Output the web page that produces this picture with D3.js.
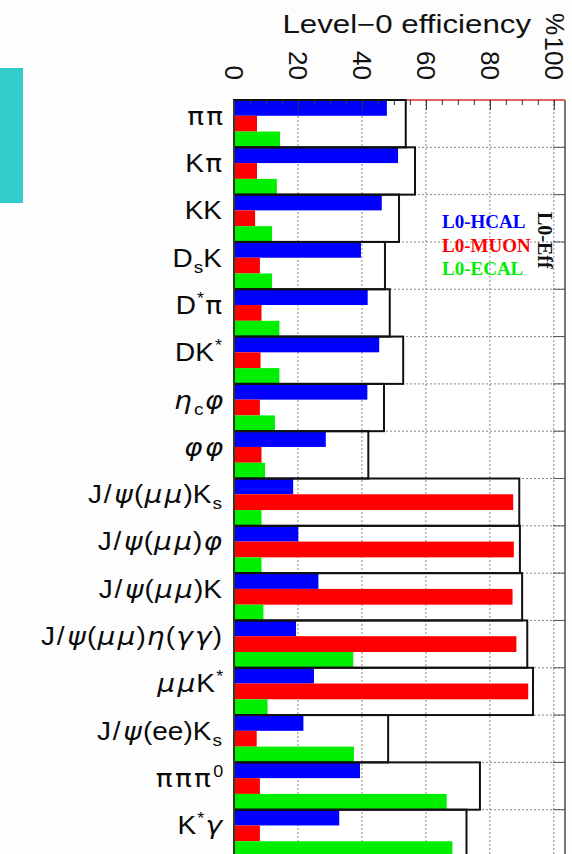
<!DOCTYPE html>
<html>
<head>
<meta charset="utf-8">
<script src="https://d3js.org/d3.v7.min.js"></script>
<style>
  body { margin: 0; background: #fdfdfd; }
  svg { display: block; }
</style>
</head>
<body>
<svg width="572" height="854"></svg>
<script>
  // decay channels, "_" = subscript, "^" = superscript (next char)
  var labels = ["ππ", "Kπ", "KK", "D_sK", "D^*π", "DK^*", "η_cφ", "φφ",
    "J/ψ(μμ)K_s", "J/ψ(μμ)φ", "J/ψ(μμ)K", "J/ψ(μμ)η(γγ)", "μμK^*",
    "J/ψ(ee)K_s", "πππ^0", "K^*γ"];

  // Level-0 efficiency in %
  var hcal = [47.8, 51.3, 46.2, 39.7, 41.8, 45.4, 41.7, 28.7, 18.5, 20.1, 26.4, 19.4, 25.0, 21.7, 39.4, 32.9];
  var muon = [7.2, 7.2, 6.6, 8.1, 8.6, 8.3, 8.1, 8.6, 87.3, 87.5, 87.1, 88.3, 92.0, 7.1, 8.1, 8.1];
  var ecal = [14.4, 13.4, 11.9, 11.9, 14.2, 14.2, 12.8, 9.7, 8.6, 8.6, 9.2, 37.3, 10.5, 37.5, 66.5, 68.3];
  var total = [53.7, 56.6, 51.6, 47.2, 48.7, 52.9, 46.9, 42.0, 89.2, 89.4, 90.1, 91.7, 93.5, 48.2, 76.9, 72.7];

  var seriesNames = ["L0-HCAL", "L0-MUON", "L0-ECAL"];
  var xTicks = [0, 20, 40, 60, 80, 100];

  var series = [hcal, muon, ecal];
  var colors = ["#0000ff", "#ff0000", "#00ee00"];

  var frame = { left: 234, right: 565, top: 100, bottom: 857 };

  var x = d3.scaleLinear().domain([0, 103.5]).range([frame.left, frame.right]);
  var y = d3.scaleBand().domain(labels).range([frame.top, frame.bottom]);
  var bw = y.bandwidth();

  var svg = d3.select("svg");

  // the teal block on the left of the slide
  svg.append("rect")
    .attr("x", 0).attr("y", 68).attr("width", 23).attr("height", 135)
    .attr("fill", "#33cccc");

  // plot area
  svg.append("rect")
    .attr("x", frame.left).attr("y", frame.top)
    .attr("width", frame.right - frame.left).attr("height", frame.bottom - frame.top)
    .attr("fill", "#fff");

  // dotted grid
  var grid = svg.append("g")
    .attr("stroke", "#8a8a8a").attr("stroke-width", 1).attr("stroke-dasharray", "2,2");
  grid.selectAll("line.v")
    .data(xTicks.slice(1))
    .join("line")
    .attr("class", "v")
    .attr("x1", d => x(d)).attr("x2", d => x(d))
    .attr("y1", frame.top).attr("y2", frame.bottom);
  grid.selectAll("line.h")
    .data(labels.slice(1))
    .join("line")
    .attr("class", "h")
    .attr("x1", frame.left).attr("x2", frame.right)
    .attr("y1", d => y(d)).attr("y2", d => y(d));

  // top frame line (red in the original)
  svg.append("line")
    .attr("x1", frame.left).attr("x2", frame.right)
    .attr("y1", frame.top).attr("y2", frame.top)
    .attr("stroke", "#e03030").attr("stroke-width", 1.5);

  // the three triggers
  series.forEach(function (vals, k) {
    svg.append("g").attr("fill", colors[k])
      .selectAll("rect")
      .data(vals)
      .join("rect")
      .attr("x", x(0))
      .attr("y", (d, i) => y(labels[i]) + k * bw / 3)
      .attr("width", d => x(d) - x(0))
      .attr("height", bw / 3);
  });

  // total L0 efficiency outline
  svg.append("g")
    .attr("fill", "none").attr("stroke", "#111").attr("stroke-width", 2)
    .selectAll("rect")
    .data(total)
    .join("rect")
    .attr("x", x(0))
    .attr("y", (d, i) => y(labels[i]))
    .attr("width", d => x(d) - x(0))
    .attr("height", bw);

  // frame sides
  svg.append("line")
    .attr("x1", frame.left).attr("x2", frame.left)
    .attr("y1", frame.top).attr("y2", frame.bottom)
    .attr("stroke", "#556b2f").attr("stroke-width", 1);
  svg.append("line")
    .attr("x1", frame.right).attr("x2", frame.right)
    .attr("y1", frame.top).attr("y2", frame.bottom)
    .attr("stroke", "#777").attr("stroke-width", 2);

  // right side category ticks
  svg.append("g")
    .attr("stroke", "#555").attr("stroke-width", 1)
    .selectAll("line")
    .data(labels.slice(1))
    .join("line")
    .attr("x1", frame.right - 12).attr("x2", frame.right)
    .attr("y1", d => y(d)).attr("y2", d => y(d));

  // top axis: minor ticks
  svg.append("g")
    .attr("transform", `translate(0,${frame.top})`)
    .call(d3.axisTop(x).tickValues(d3.range(0, 101, 5)).tickSize(-5).tickFormat(""))
    .call(g => g.select(".domain").remove())
    .call(g => g.selectAll("line").attr("stroke", "#333"));

  // top axis: major ticks + rotated labels
  var xAxis = svg.append("g")
    .attr("transform", `translate(0,${frame.top})`)
    .call(d3.axisTop(x).tickValues(xTicks).tickSize(-10).tickFormat(d3.format("d")));
  xAxis.select(".domain").remove();
  xAxis.selectAll("line").attr("stroke", "#333");
  xAxis.selectAll("text")
    .attr("x", 0).attr("y", 0).attr("dy", "0.36em")
    .attr("text-anchor", "end")
    .attr("transform", "translate(0,-20) rotate(90)")
    .attr("fill", "#111")
    .style("font", "26px 'Liberation Sans', Arial, sans-serif");

  // axis title
  svg.append("g")
    .attr("transform", "translate(531,33) scale(1.25,1)")
    .append("text")
    .attr("text-anchor", "end")
    .attr("fill", "#111")
    .style("font", "25px 'Liberation Sans', Arial, sans-serif")
    .text("Level\u22120 efficiency");
  svg.append("text")
    .attr("transform", "translate(555,24) rotate(90)")
    .attr("text-anchor", "middle")
    .attr("dy", "0.35em")
    .attr("fill", "#111")
    .style("font", "25px 'Liberation Sans', Arial, sans-serif")
    .text("%");

  // category labels, greek glyphs from a wider font
  var greek = "ψμηγφπ";
  labels.forEach(function (lab) {
    var t = svg.append("g")
      .attr("transform", `translate(222,${y(lab) + bw / 2 + 1}) scale(1.12,1)`)
      .append("text")
      .attr("text-anchor", "end")
      .attr("fill", "#0a0a0a")
      .style("font", "25px 'Liberation Sans', Arial, sans-serif");
    var shift = 0, pad = 0;
    for (var i = 0; i < lab.length; i++) {
      var c = lab[i];
      if (c === "_" || c === "^") {
        var off = c === "_" ? 6 : -10;
        t.append("tspan")
          .attr("dy", off)
          .attr("dx", pad + 1)
          .style("font-size", c === "_" ? "17px" : "16px")
          .text(lab[i + 1]);
        shift = -off;
        pad = 0;
        i++;
      } else {
        var isGreek = greek.indexOf(c) >= 0;
        var extra = isGreek ? 2 : (c === "/" ? 3 : 0);
        var ts = t.append("tspan").attr("dy", shift).attr("dx", pad + extra / 2).text(c);
        if (isGreek) {
          ts.style("font-family", "'DejaVu Sans', sans-serif")
            .style("font-size", "25px");
          if (c !== "π") ts.style("font-style", "italic");
        }
        shift = 0;
        pad = extra / 2;
      }
    }
  });

  // legend
  svg.append("g")
    .selectAll("text")
    .data(seriesNames)
    .join("text")
    .attr("x", 442)
    .attr("y", (d, i) => 228 + i * 23.5)
    .attr("fill", (d, i) => colors[i])
    .style("font", "bold 19px 'Liberation Serif', 'Times New Roman', serif")
    .text(d => d);

  svg.append("text")
    .attr("transform", "translate(545,212) rotate(90)")
    .attr("dy", "0.35em")
    .attr("fill", "#111")
    .style("font", "bold 20px 'Liberation Serif', 'Times New Roman', serif")
    .text("L0-Eff");
</script>
</body>
</html>
